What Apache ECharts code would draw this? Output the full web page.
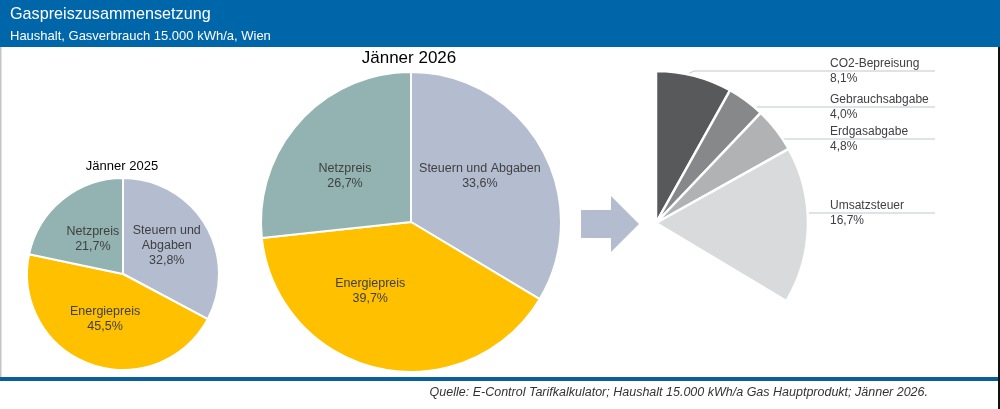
<!DOCTYPE html>
<html><head><meta charset="utf-8">
<style>html,body{margin:0;padding:0;background:#fff}#c{width:1000px;height:409px}</style>
<script src="https://cdn.jsdelivr.net/npm/echarts@6/dist/echarts.min.js"></script>
</head><body><div id="c"></div>
<script>
const categories = ['Steuern und Abgaben', 'Energiepreis', 'Netzpreis'];
const values2025 = [32.8, 45.5, 21.7];
const values2026 = [33.6, 39.7, 26.7];
const taxCategories = ['CO2-Bepreisung', 'Gebrauchsabgabe', 'Erdgasabgabe', 'Umsatzsteuer'];
const taxValues = [8.1, 4.0, 4.8, 16.7];
const otherShare = 66.4;

const FONT = '"Liberation Sans", Arial, sans-serif';
const pieColors = ['#B4BDD0', '#FFC000', '#93B3B2'];
const taxColors = ['#58595B', '#87888A', '#B1B2B4', '#D9DADB'];
const fmt = v => v.toFixed(1).replace('.', ',') + '%';

function mainPie(values, center, radius, shifts, names) {
  return {
    type: 'pie', center, radius, startAngle: 90, clockwise: true, silent: true, animation: false,
    itemStyle: { borderColor: '#fff', borderWidth: 2 },
    label: { position: 'inside', fontFamily: FONT, fontSize: 12.5, lineHeight: 15, color: '#404040', align: 'center',
      formatter: p => (names ? names[p.dataIndex] : p.name) + '\n' + fmt(p.value) },
    labelLayout: p => ({ dx: shifts[p.dataIndex][0], dy: shifts[p.dataIndex][1] }),
    data: categories.map((name, i) => ({ name, value: values[i], itemStyle: { color: pieColors[i] } }))
  };
}

const taxLabelLines = [71, 107, 139, 213];
const taxLineStart = [[688, 74], [757, 107], [782, 139], [808, 213]];

const option = {
  animation: false,
  backgroundColor: '#fff',
  graphic: [
    { type: 'rect', shape: { x: 0, y: 0, width: 1000, height: 47 }, style: { fill: '#0066AA' }, z: 0 },
    { type: 'rect', shape: { x: 0, y: 47, width: 1.5, height: 331 }, style: { fill: '#C4C4C4' }, z: 0 },
    { type: 'rect', shape: { x: 0, y: 377, width: 998, height: 4 }, style: { fill: '#0A5F9A' }, z: 0 },
    { type: 'rect', shape: { x: 998, y: 47, width: 2, height: 362 }, style: { fill: '#111' }, z: 0 },
    { type: 'polygon', shape: { points: [[581, 210], [611, 210], [611, 196], [639, 224], [611, 252], [611, 238], [581, 238]] }, style: { fill: '#B4BDD0' }, z: 1 },
    { type: 'text', x: 10, y: 15, style: { text: 'Gaspreiszusammensetzung', fill: '#fff', font: '16.2px ' + FONT, textVerticalAlign: 'middle' }, z: 5 },
    { type: 'text', x: 10, y: 36, style: { text: 'Haushalt, Gasverbrauch 15.000 kWh/a, Wien', fill: '#fff', font: '13px ' + FONT, textVerticalAlign: 'middle' }, z: 5 },
    { type: 'text', x: 409, y: 58, style: { text: 'Jänner 2026', fill: '#000', font: '17px ' + FONT, textAlign: 'center', textVerticalAlign: 'middle' }, z: 5 },
    { type: 'text', x: 122, y: 166, style: { text: 'Jänner 2025', fill: '#000', font: '13px ' + FONT, textAlign: 'center', textVerticalAlign: 'middle' }, z: 5 },
    { type: 'text', x: 928, y: 393, style: { text: 'Quelle: E-Control Tarifkalkulator; Haushalt 15.000 kWh/a Gas Hauptprodukt; Jänner 2026.', fill: '#333', font: 'italic 12.5px ' + FONT, textAlign: 'right', textVerticalAlign: 'middle' }, z: 5 }
  ],
  series: [
    mainPie(values2025, [123, 274], 96, [[0, -2], [-0.5, -3], [2, 5]], ['Steuern und\nAbgaben', 'Energiepreis', 'Netzpreis']),
    mainPie(values2026, [411, 222], 150, [[1, -8], [-24, -7], [-8, 6]]),
    {
      type: 'pie', center: [656, 223], radius: 152, startAngle: 90, clockwise: true, silent: true, animation: false,
      itemStyle: { borderColor: '#fff', borderWidth: 2.5 },
      label: { position: 'outside', fontFamily: FONT, fontSize: 12, lineHeight: 15, color: '#404040', align: 'left',
        formatter: p => p.name + '\n' + fmt(p.value) },
      labelLine: { show: true, length: 5, length2: 5, smooth: false, lineStyle: { color: '#BFC6CE', width: 1 } },
      labelLayout: p => {
        const i = p.dataIndex;
        if (i >= taxLabelLines.length) return {};
        const y = taxLabelLines[i];
        return { x: 830, y: y, align: 'left', verticalAlign: 'middle',
          labelLinePoints: i === 0 ? [taxLineStart[0], [694, y], [935, y]] : [taxLineStart[i], [taxLineStart[i][0] + 1, y], [935, y]] };
      },
      data: taxCategories.map((name, i) => ({ name, value: taxValues[i], itemStyle: { color: taxColors[i] } }))
        .concat([{ name: '', value: otherShare, itemStyle: { color: 'rgba(0,0,0,0)', borderColor: 'rgba(0,0,0,0)' }, label: { show: false }, labelLine: { show: false } }])
    }
  ]
};
echarts.init(document.getElementById('c'), null, { renderer: 'canvas' }).setOption(option);
</script></body></html>
